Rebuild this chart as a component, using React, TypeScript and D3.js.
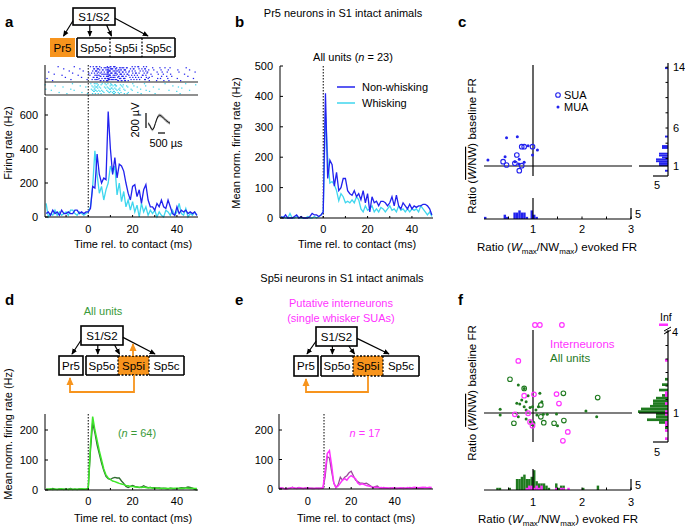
import React from 'react';
import * as d3 from 'd3';

const FONT = '"Liberation Sans", Arial, Helvetica, sans-serif';

// ---------- time bins (ms) ----------
const psthTime = d3.range(-19, 50);
const eTime = d3.range(-13, 58);

// ---------- panel a ----------
const aNonWhisking = [20,30,10,40,20,30,10,40,20,20,30,20,20,40,40,20,30,20,30,
  30,50,180,170,370,250,200,230,220,620,
  400,250,350,230,310,300,270,200,140,100,
  180,190,120,160,80,160,190,100,60,60,
  40,80,60,100,60,50,100,60,20,10,
  60,20,40,30,40,20,30,20,30,10];
const aWhisking = [80,0,20,10,40,10,30,10,20,30,10,40,40,20,10,30,20,10,20,
  30,60,180,390,250,140,180,100,160,200,
  300,260,300,130,200,90,150,60,100,40,
  90,30,70,0,80,30,60,10,40,20,
  40,0,30,10,0,40,30,10,40,10,
  30,80,20,10,50,0,20,10,30,10];
const waveTime = [0,0.1,0.2,0.3,0.4,0.5,0.6,0.7,0.8,0.9,1.0,1.1,1.2,1.3,1.4,1.5];
const waveform = [0,-15,-60,-85,-60,0,60,100,110,100,85,65,45,30,15,5];

// ---------- panel b ----------
const bNonWhisking = [5,0,10,0,0,0,5,10,0,5,0,0,0,5,15,10,10,5,10,
  20,410,130,190,175,105,150,90,100,130,
  130,90,80,75,90,70,80,60,90,50,
  80,20,70,50,55,40,55,55,50,40,
  50,70,40,75,40,30,50,40,30,45,
  30,40,35,40,40,45,45,40,30,10];
const bWhisking = [0,5,0,0,15,0,0,5,0,0,0,0,5,0,0,5,0,5,10,
  20,345,200,115,120,110,90,57,80,70,
  50,55,50,60,50,70,60,30,20,40,
  25,30,40,20,30,20,35,30,20,30,
  40,25,30,20,40,25,30,20,30,20,
  30,25,30,20,40,30,20,10,20,5];

// ---------- panel c ----------
const cSuaX = [0.99,0.77,0.82,0.67,0.39,0.46,0.63,0.77,0.72];
const cSuaY = [3.54,3.54,3.54,2.45,1.57,1.13,1.36,1.04,0.38];
const cMuaX = [0.08,0.46,0.68,0.90,1.09,0.99,0.43,0.72,0.82,0.63,0.71];
const cMuaY = [1.79,4.72,4.86,3.67,3.10,2.45,2.22,1.88,1.49,1.57,1.26];
const cEvokedBinStart = [0.0,0.4,0.45,0.6,0.65,0.7,0.75,0.8,0.85,0.95,1.0,1.05];
const cEvokedCount = [1,2,1,3,3,4,3,3,1,4,2,1];
const cBaseBinStart = [13.75,4.75,3.5,3.25,2.5,2.25,2.0,1.75,1.5,1.25,1.0,0.25];
const cBaseCount = [1,1,2,2,3,3,2,4,4,3,3,1];

// ---------- panel d ----------
const dAllBright = [3,2,4,2,3,2,3,4,2,3,2,3,2,3,2,3,4,3,3,
  5,150,245,200,165,130,100,70,50,40,
  35,30,28,25,22,20,18,15,14,12,
  12,10,10,9,8,10,8,7,8,6,
  6,7,5,6,5,6,5,6,5,6,
  6,5,6,5,7,6,5,6,5,5];
const dAllDark = [2,3,2,5,3,2,4,2,3,2,3,5,2,3,2,4,3,2,3,
  5,130,225,190,150,120,90,65,45,38,
  35,40,42,40,40,30,22,12,8,12,
  15,12,10,8,10,14,10,8,9,7,
  8,6,7,5,6,5,4,6,5,4,
  5,6,8,7,8,10,9,6,2,0];

// ---------- panel e ----------
const eMagenta = [5,3,2,0,2,3,5,3,2,4,3,2,3,2,3,2,2,3,2,3,3,
  60,120,130,80,20,5,10,20,30,35,30,40,45,40,35,20,15,18,15,12,10,8,
  5,6,5,4,5,3,4,3,2,4,3,2,3,4,2,3,5,3,4,6,5,4,5,6,5,4,6,5];
const ePurple = [2,4,2,1,2,3,6,2,3,5,3,2,3,4,2,3,2,2,3,2,2,
  40,110,105,60,20,5,15,40,30,40,45,55,60,45,30,25,20,20,18,20,15,10,
  5,8,10,4,3,5,3,2,4,3,2,3,2,3,4,2,3,5,3,4,3,2,4,3,5,4,3,2];

// ---------- panel f ----------
const fIntX = [0.70,0.82,1.02,1.48,1.53,0.90,0.94,0.99,0.63,1.71,1.61];
const fIntY = [2.93,1.64,1.69,1.70,1.35,0.99,0.67,0.53,0.95,0.30,-0.03];
const fIntInfX = [1.04,1.14,1.59];
const fSuaX = [0.53,0.82,1.62,2.32,1.16,1.16,0.61,1.22,1.43,1.63,0.99];
const fSuaY = [2.25,1.91,1.73,1.57,1.30,0.86,0.62,0.64,0.62,0.72,0.62];
const fMuaX = [0.70,0.82,1.14,0.90,0.77,0.67,0.73,0.86,0.82,0.99,1.18,0.33,0.33,0.67,0.86,1.06,1.08,1.21,1.29,1.48,2.08,2.30,0.86,0.95,1.50,0.70,1.11,0.94];
const fMuaY = [2.04,1.91,1.73,1.64,1.48,1.36,1.33,1.42,1.23,1.23,1.42,1.14,0.93,0.99,1.11,1.11,0.93,0.95,0.95,0.96,1.07,0.86,0.78,0.68,0.53,0.86,1.23,1.20];
const fEvokedAllStart = [0.25,0.30,0.50,0.65,0.70,0.75,0.80,0.85,0.90,0.95,1.00,1.05,1.10,1.15,1.20,1.25,1.30,1.45,1.50,1.55,1.60,2.00,2.30];
const fEvokedAllCount = [1,1,1,5,5,6,7,5,5,6,9,4,3,3,3,2,1,3,1,2,2,1,2];
const fEvokedIntStart = [0.85,0.90,0.95,1.00,1.05,1.10,1.15,1.45,1.55,1.60,1.70];
const fEvokedIntCount = [1,2,2,1,2,1,2,1,1,1,1];
const fBaseAllStart = [2.2,2.0,1.8,1.6,1.5,1.4,1.3,1.2,1.1,1.0,0.9,0.8,0.7,0.6,0.4];
const fBaseAllCount = [1,2,3,2,4,5,5,6,9,10,4,4,7,3,1];
const fBaseIntStart = [2.9,1.7,1.6,1.3,1.0,0.9,0.6,0.5,0.3,0.0];
const fBaseIntCount = [1,1,1,1,1,1,1,1,1,1];
const fInfIntCount = 3;

// ---------- colours ----------
const BLUE = '#2222ee';
const CYAN = '#3fd6ee';
const ORANGE = '#f7941d';
const LIME = '#3ee62a';
const DKGREEN = '#2f6a2f';
const MAGENTA = '#ff33ff';
const PURPLE = '#9a4a9a';
const FGREEN = '#1f7a1f';
const TXTGREEN = '#3a9a3a';

const frac = (v: number) => v - Math.floor(v);

function linePath(x: any, y: any, t: number[], v: number[]) {
  return d3.line()(t.map((tt, i) => [x(tt), y(v[i])]) as any) || '';
}

function YTicks({ x, scale, values, labels, len = 3, labelX }: any) {
  return (
    <g>
      {values.map((v: number) => (
        <line key={'t' + v} x1={x} x2={x + len} y1={scale(v)} y2={scale(v)} stroke="#000" strokeWidth={1} />
      ))}
      {labels.map((v: number) => (
        <text key={'l' + v} x={labelX} y={scale(v) + 4} textAnchor="end" fontSize={11}>{v}</text>
      ))}
    </g>
  );
}

function XTicks({ y, scale, values, labels, len = 3, labelY }: any) {
  return (
    <g>
      {values.map((v: number) => (
        <line key={'t' + v} x1={scale(v)} x2={scale(v)} y1={y} y2={y - len} stroke="#000" strokeWidth={1} />
      ))}
      {labels.map((v: number) => (
        <text key={'l' + v} x={scale(v)} y={labelY} textAnchor="middle" fontSize={11}>{v}</text>
      ))}
    </g>
  );
}

function Diagram({ s1, pr5, sp5, div1, div2, pr5Orange, sp5iOrange }: any) {
  const [sx, sy, sw, sh] = s1;
  const [px, py, pw, ph] = pr5;
  const [qx, qy, qw, qh] = sp5;
  const sb = sy + sh;
  const top = qy - 1;
  return (
    <g>
      {sp5iOrange && <rect x={div1} y={qy} width={div2 - div1} height={qh} fill={ORANGE} />}
      <rect x={sx} y={sy} width={sw} height={sh} fill="#fff" stroke="#000" strokeWidth={1.6} />
      <text x={sx + sw / 2} y={sy + sh / 2 + 4} textAnchor="middle" fontSize={11.5}>S1/S2</text>
      {pr5Orange
        ? <rect x={px} y={py} width={pw} height={ph} fill={ORANGE} />
        : <rect x={px} y={py} width={pw} height={ph} fill="#fff" stroke="#000" strokeWidth={1.6} />}
      <text x={px + pw / 2} y={py + ph / 2 + 4} textAnchor="middle" fontSize={11.5}>Pr5</text>
      <line x1={qx} x2={div1} y1={qy} y2={qy} stroke="#000" strokeWidth={1.6} />
      <line x1={qx} x2={div1} y1={qy + qh} y2={qy + qh} stroke="#000" strokeWidth={1.6} />
      <line x1={div2} x2={qx + qw} y1={qy} y2={qy} stroke="#000" strokeWidth={1.6} />
      <line x1={div2} x2={qx + qw} y1={qy + qh} y2={qy + qh} stroke="#000" strokeWidth={1.6} />
      <line x1={qx} x2={qx} y1={qy} y2={qy + qh} stroke="#000" strokeWidth={1.6} />
      <line x1={qx + qw} x2={qx + qw} y1={qy} y2={qy + qh} stroke="#000" strokeWidth={1.6} />
      {sp5iOrange ? (
        <g>
          <line x1={div1} x2={div2} y1={qy} y2={qy} stroke="#000" strokeWidth={1.6} strokeDasharray="2,1.5" />
          <line x1={div1} x2={div2} y1={qy + qh} y2={qy + qh} stroke="#000" strokeWidth={1.6} strokeDasharray="2,1.5" />
        </g>
      ) : (
        <g>
          <line x1={div1} x2={div2} y1={qy} y2={qy} stroke="#000" strokeWidth={1.6} />
          <line x1={div1} x2={div2} y1={qy + qh} y2={qy + qh} stroke="#000" strokeWidth={1.6} />
        </g>
      )}
      <line x1={div1} x2={div1} y1={qy} y2={qy + qh} stroke="#000" strokeWidth={1.2} strokeDasharray="2,1.5" />
      <line x1={div2} x2={div2} y1={qy} y2={qy + qh} stroke="#000" strokeWidth={1.2} strokeDasharray="2,1.5" />
      <text x={(qx + div1) / 2} y={qy + qh / 2 + 4} textAnchor="middle" fontSize={11.5}>Sp5o</text>
      <text x={(div1 + div2) / 2} y={qy + qh / 2 + 4} textAnchor="middle" fontSize={11.5}>Sp5i</text>
      <text x={(div2 + qx + qw) / 2} y={qy + qh / 2 + 4} textAnchor="middle" fontSize={11.5}>Sp5c</text>
      <line x1={sx} y1={sy + sh * 0.75} x2={px + pw / 2 + 1} y2={top - 1} stroke="#000" strokeWidth={1.2} markerEnd="url(#arrB)" />
      <line x1={sx + sw * 0.4} y1={sb} x2={sx + sw * 0.4} y2={top - 1} stroke="#000" strokeWidth={1.2} markerEnd="url(#arrB)" />
      <line x1={sx + sw * 0.8} y1={sb} x2={div1 + 1.5} y2={top - 1} stroke="#000" strokeWidth={1.2} markerEnd="url(#arrB)" />
      <line x1={sx + sw} y1={sy + sh * 0.6} x2={div2 + 6} y2={top - 1} stroke="#000" strokeWidth={1.2} markerEnd="url(#arrB)" />
    </g>
  );
}

// Raster dots laid out from the PSTH rate of each bin (count per bin = rate-proportional),
// placed with a deterministic low-discrepancy (R2) sequence.
function Raster({ x, rates, yTop, yBot, nTrials, color, seed }: any) {
  const rowH = (yBot - yTop) / nTrials;
  const dots: any[] = [];
  let k = 0;
  psthTime.forEach((t, i) => {
    const n = Math.round((rates[i] / 1000) * nTrials * 2.5);
    for (let j = 0; j < n; j++) {
      k += 1;
      const tt = t - 0.5 + frac(seed + k * 0.7548776662);
      const row = Math.floor(frac(seed * 1.7 + k * 0.5698402910) * nTrials);
      dots.push(<rect key={i + '_' + j} x={x(tt) - 0.6} y={yTop + row * rowH + 0.1} width={1.3} height={1.2} fill={color} />);
    }
  });
  return <g>{dots}</g>;
}

function HBars({ starts, counts, bw, x, base, k, color }: any) {
  return (
    <g>
      {starts.map((s: number, i: number) => (
        <rect key={i} x={x(s)} width={Math.max(0.5, x(s + bw) - x(s))} y={base - counts[i] * k} height={counts[i] * k} fill={color} />
      ))}
    </g>
  );
}

function VBars({ starts, counts, bw, y, axisX, k, color }: any) {
  return (
    <g>
      {starts.map((s: number, i: number) => (
        <rect key={i} x={axisX - counts[i] * k} width={counts[i] * k} y={y(s + bw)} height={Math.max(0.5, y(s) - y(s + bw))} fill={color} />
      ))}
    </g>
  );
}

function RatioYLabel({ cx, cy }: any) {
  return (
    <text transform={`translate(${cx},${cy}) rotate(-90)`} textAnchor="middle" fontSize={11.5}>
      <tspan>Ratio (</tspan>
      <tspan style={{ textDecoration: 'overline' }}><tspan fontStyle="italic">W</tspan>/NW</tspan>
      <tspan>) baseline FR</tspan>
    </text>
  );
}

function RatioXLabel({ cx, y }: any) {
  return (
    <text x={cx} y={y} textAnchor="middle" fontSize={11.5}>
      <tspan>Ratio (</tspan>
      <tspan fontStyle="italic">W</tspan>
      <tspan fontSize={8} dy={2.5}>max</tspan>
      <tspan dy={-2.5}>/NW</tspan>
      <tspan fontSize={8} dy={2.5}>max</tspan>
      <tspan dy={-2.5}>) evoked FR</tspan>
    </text>
  );
}

export default function App() {
  const xA = d3.scaleLinear().domain([-19.5, 49.5]).range([45, 198]);
  const yA = d3.scaleLinear().domain([0, 600]).range([217, 115]);
  const xW = d3.scaleLinear().domain([0, 1.5]).range([148, 170]);
  const yW = d3.scaleLinear().domain([0, 200]).range([123.5, 108.5]);
  const waveArea = d3.area<number>().x((_, i) => xW(waveTime[i])).y0((d) => yW(d - 22)).y1((d) => yW(d + 22));
  const xB = d3.scaleLinear().domain([-19.5, 49.5]).range([280, 433]);
  const yB = d3.scaleLinear().domain([0, 500]).range([218, 66]);
  const xC = d3.scaleLinear().domain([0, 3]).range([484, 631]);
  const yC = d3.scaleLinear().domain([1, 14]).range([166, 67.2]);
  const xD = xA;
  const yD = d3.scaleLinear().domain([0, 200]).range([490, 430]);
  const xE = d3.scaleLinear().domain([0, 40]).range([307.7, 394.7]);
  const yE = d3.scaleLinear().domain([0, 200]).range([489, 430]);
  const xF = xC;
  const yF = d3.scaleLinear().domain([1, 4]).range([413, 332]);

  const dotted = { stroke: '#000', strokeWidth: 1, strokeDasharray: '1.5,1.5' };

  return (
    <svg width={685} height={529} style={{ position: 'absolute', left: 0, top: 0, background: '#fff' }} fontFamily={FONT}>
      <defs>
        <marker id="arrB" viewBox="0 0 8 8" refX={7} refY={4} markerWidth={6} markerHeight={6} markerUnits="userSpaceOnUse" orient="auto">
          <path d="M0,0.5 L8,4 L0,7.5 z" fill="#000" />
        </marker>
        <marker id="arrO" viewBox="0 0 8 8" refX={7} refY={4} markerWidth={8} markerHeight={8} markerUnits="userSpaceOnUse" orient="auto">
          <path d="M0,0.5 L8,4 L0,7.5 z" fill={ORANGE} />
        </marker>
      </defs>

      {/* ================= panel a ================= */}
      <text x={5} y={27} fontSize={15} fontWeight="bold">a</text>
      <Diagram s1={[73, 8, 42, 17]} pr5={[50, 38, 25, 19]} sp5={[77, 38, 98, 19]} div1={110} div2={142} pr5Orange />
      <Raster x={xA} rates={aNonWhisking} yTop={66} yBot={81} nTrials={14} color={BLUE} seed={0.13} />
      <Raster x={xA} rates={aWhisking} yTop={83} yBot={94} nTrials={10} color={CYAN} seed={0.57} />
      <line x1={45} x2={198} y1={82} y2={82} stroke="#222" strokeWidth={1.2} />
      <line x1={45} x2={198} y1={95} y2={95} stroke="#222" strokeWidth={1.2} />
      <line x1={45} x2={45} y1={65} y2={95} stroke="#000" strokeWidth={1} />
      <line x1={xA(0)} x2={xA(0)} y1={65} y2={217} {...dotted} />
      <path d={linePath(xA, yA, psthTime, aWhisking)} fill="none" stroke={CYAN} strokeWidth={1.3} />
      <path d={linePath(xA, yA, psthTime, aNonWhisking)} fill="none" stroke={BLUE} strokeWidth={1.3} />
      <line x1={45} x2={45} y1={97} y2={217} stroke="#000" strokeWidth={1} />
      <line x1={45} x2={198} y1={217} y2={217} stroke="#000" strokeWidth={1} />
      <YTicks x={45} scale={yA} values={[0, 200, 400, 600]} labels={[0, 200, 400, 600]} labelX={38} />
      <XTicks y={217} scale={xA} values={[-10, 0, 10, 20, 30, 40]} labels={[0, 20, 40]} labelY={233} len={2} />
      <text transform="translate(12,143) rotate(-90)" textAnchor="middle" fontSize={11}>Firing rate (Hz)</text>
      <text x={133} y={248} textAnchor="middle" fontSize={11}>Time rel. to contact (ms)</text>
      <path d={waveArea(waveform) || ''} fill="#999" opacity={0.8} />
      <path d={linePath(xW, yW, waveTime, waveform)} fill="none" stroke="#111" strokeWidth={1} />
      <line x1={146} x2={146} y1={113} y2={128} stroke="#000" strokeWidth={1.2} />
      <text transform="translate(139,120) rotate(-90)" textAnchor="middle" fontSize={11}>200 µV</text>
      <line x1={158} x2={165} y1={133} y2={133} stroke="#000" strokeWidth={1.2} />
      <text x={166} y={147} textAnchor="middle" fontSize={11}>500 µs</text>

      {/* ================= panel b ================= */}
      <text x={343} y={17} textAnchor="middle" fontSize={11}>Pr5 neurons in S1 intact animals</text>
      <text x={235} y={27} fontSize={15} fontWeight="bold">b</text>
      <text x={353} y={61} textAnchor="middle" fontSize={11}>All units (<tspan fontStyle="italic">n</tspan> = 23)</text>
      <line x1={xB(0)} x2={xB(0)} y1={66} y2={218} {...dotted} />
      <path d={linePath(xB, yB, psthTime, bWhisking)} fill="none" stroke={CYAN} strokeWidth={1.3} />
      <path d={linePath(xB, yB, psthTime, bNonWhisking)} fill="none" stroke={BLUE} strokeWidth={1.3} />
      <line x1={280} x2={280} y1={66} y2={218} stroke="#000" strokeWidth={1} />
      <line x1={280} x2={433} y1={218} y2={218} stroke="#000" strokeWidth={1} />
      <YTicks x={280} scale={yB} values={[0, 100, 200, 300, 400, 500]} labels={[0, 100, 200, 300, 400, 500]} labelX={273} />
      <XTicks y={218} scale={xB} values={[-10, 0, 10, 20, 30, 40]} labels={[0, 20, 40]} labelY={233} len={2} />
      <line x1={337} x2={355} y1={87} y2={87} stroke={BLUE} strokeWidth={1.5} />
      <text x={362} y={91} fontSize={11}>Non-whisking</text>
      <line x1={337} x2={355} y1={103} y2={103} stroke={CYAN} strokeWidth={1.5} />
      <text x={362} y={107} fontSize={11}>Whisking</text>
      <text transform="translate(240,143) rotate(-90)" textAnchor="middle" fontSize={11}>Mean norm. firing rate (Hz)</text>
      <text x={357} y={248} textAnchor="middle" fontSize={11}>Time rel. to contact (ms)</text>

      {/* ================= panel c ================= */}
      <text x={458} y={27} fontSize={15} fontWeight="bold">c</text>
      <line x1={484} x2={632} y1={yC(1)} y2={yC(1)} stroke="#000" strokeWidth={1.2} />
      <line x1={xC(1)} x2={xC(1)} y1={65} y2={176} stroke="#000" strokeWidth={1.2} />
      {cMuaX.map((v, i) => <circle key={'cm' + i} cx={xC(v)} cy={yC(cMuaY[i])} r={1.5} fill={BLUE} />)}
      {cSuaX.map((v, i) => <circle key={'cs' + i} cx={xC(v)} cy={yC(cSuaY[i])} r={2.3} fill="none" stroke={BLUE} strokeWidth={1.1} />)}
      <circle cx={558} cy={95} r={2.3} fill="none" stroke={BLUE} strokeWidth={1.1} />
      <text x={564} y={99} fontSize={11}>SUA</text>
      <circle cx={558} cy={107} r={1.5} fill={BLUE} />
      <text x={564} y={111} fontSize={11}>MUA</text>
      <HBars starts={cEvokedBinStart} counts={cEvokedCount} bw={0.05} x={xC} base={219} k={2.15} color={BLUE} />
      <line x1={484} x2={631} y1={219} y2={219} stroke="#000" strokeWidth={1.2} />
      <line x1={xC(1)} x2={xC(1)} y1={198} y2={219} stroke="#000" strokeWidth={1.2} />
      <XTicks y={219} scale={xC} values={[0.5, 1.5, 2, 2.5, 3]} labels={[1, 2, 3]} labelY={233} len={2.5} />
      <line x1={631} x2={631} y1={208} y2={219} stroke="#000" strokeWidth={1.2} />
      <text x={635} y={218} fontSize={11}>5</text>
      <VBars starts={cBaseBinStart} counts={cBaseCount} bw={0.25} y={yC} axisX={668} k={3} color={BLUE} />
      <line x1={639} x2={668} y1={yC(1)} y2={yC(1)} stroke="#000" strokeWidth={1.2} />
      <line x1={668} x2={668} y1={63} y2={176} stroke="#000" strokeWidth={1.2} />
      {[2, 4, 6, 8, 10, 12, 14].map((v) => <line key={'cr' + v} x1={668} x2={665.5} y1={yC(v)} y2={yC(v)} stroke="#000" strokeWidth={1} />)}
      <text x={673} y={yC(14) + 4} fontSize={11}>14</text>
      <text x={673} y={yC(6) + 4} fontSize={11}>6</text>
      <text x={673} y={yC(1) + 4} fontSize={11}>1</text>
      <line x1={653} x2={668} y1={176} y2={176} stroke="#000" strokeWidth={1.2} />
      <text x={657} y={189} textAnchor="middle" fontSize={11}>5</text>
      <RatioYLabel cx={476} cy={146} />
      <RatioXLabel cx={557} y={251} />

      {/* ================= panel d ================= */}
      <text x={5} y={305} fontSize={15} fontWeight="bold">d</text>
      <text x={103} y={315} textAnchor="middle" fontSize={11} fill={TXTGREEN}>All units</text>
      <Diagram s1={[81, 326, 42, 19]} pr5={[59, 356, 24, 19]} sp5={[86, 356, 98, 19]} div1={118} div2={149} sp5iOrange />
      <path d="M134,375 L134,392 L70,392 L70,378" fill="none" stroke={ORANGE} strokeWidth={1.8} markerEnd="url(#arrO)" />
      <line x1={133} x2={133} y1={356} y2={344} stroke={ORANGE} strokeWidth={1.8} markerEnd="url(#arrO)" />
      <line x1={xD(0)} x2={xD(0)} y1={414} y2={490} {...dotted} />
      <path d={linePath(xD, yD, psthTime, dAllDark)} fill="none" stroke={DKGREEN} strokeWidth={1.3} />
      <path d={linePath(xD, yD, psthTime, dAllBright)} fill="none" stroke={LIME} strokeWidth={1.5} />
      <line x1={45} x2={45} y1={414} y2={490} stroke="#000" strokeWidth={1} />
      <line x1={45} x2={198} y1={490} y2={490} stroke="#000" strokeWidth={1} />
      <YTicks x={45} scale={yD} values={[0, 100, 200]} labels={[0, 100, 200]} labelX={38} />
      <XTicks y={490} scale={xD} values={[-10, 0, 10, 20, 30, 40]} labels={[0, 20, 40]} labelY={505} len={2} />
      <text x={137} y={437} textAnchor="middle" fontSize={11} fill={TXTGREEN}>(<tspan fontStyle="italic">n</tspan> = 64)</text>
      <text transform="translate(12,434) rotate(-90)" textAnchor="middle" fontSize={11}>Mean norm. firing rate (Hz)</text>
      <text x={133} y={522} textAnchor="middle" fontSize={11}>Time rel. to contact (ms)</text>

      {/* ================= panel e ================= */}
      <text x={342} y={282} textAnchor="middle" fontSize={11}>Sp5i neurons in S1 intact animals</text>
      <text x={235} y={305} fontSize={15} fontWeight="bold">e</text>
      <text x={341} y={307} textAnchor="middle" fontSize={11} fill={MAGENTA}>Putative interneurons</text>
      <text x={341} y={322} textAnchor="middle" fontSize={11} fill={MAGENTA}>(single whisker SUAs)</text>
      <Diagram s1={[316, 327, 41, 19]} pr5={[294, 356, 24, 20]} sp5={[321, 356, 98, 20]} div1={353} div2={383} sp5iOrange />
      <path d="M368,376 L368,392 L306,392 L306,379" fill="none" stroke={ORANGE} strokeWidth={1.8} markerEnd="url(#arrO)" />
      <line x1={324} x2={324} y1={414} y2={489} {...dotted} />
      <path d={linePath(xE, yE, eTime, ePurple)} fill="none" stroke={PURPLE} strokeWidth={1.3} />
      <path d={linePath(xE, yE, eTime, eMagenta)} fill="none" stroke={MAGENTA} strokeWidth={1.5} />
      <line x1={279} x2={279} y1={414} y2={489} stroke="#000" strokeWidth={1} />
      <line x1={279} x2={433} y1={489} y2={489} stroke="#000" strokeWidth={1} />
      <YTicks x={279} scale={yE} values={[0, 100, 200]} labels={[0, 100, 200]} labelX={273} />
      <XTicks y={489} scale={xE} values={[-10, 0, 10, 20, 30, 40, 50]} labels={[0, 20, 40]} labelY={505} len={2} />
      <text x={365} y={437} textAnchor="middle" fontSize={11} fill={MAGENTA}><tspan fontStyle="italic">n</tspan> = 17</text>
      <text x={356} y={522} textAnchor="middle" fontSize={11}>Time rel. to contact (ms)</text>

      {/* ================= panel f ================= */}
      <text x={458} y={305} fontSize={15} fontWeight="bold">f</text>
      <line x1={484} x2={632} y1={yF(1)} y2={yF(1)} stroke="#000" strokeWidth={1.2} />
      <line x1={xF(1)} x2={xF(1)} y1={330} y2={442} stroke="#000" strokeWidth={1.2} />
      {fMuaX.map((v, i) => <circle key={'fm' + i} cx={xF(v)} cy={yF(fMuaY[i])} r={1.5} fill={FGREEN} />)}
      {fSuaX.map((v, i) => <circle key={'fs' + i} cx={xF(v)} cy={yF(fSuaY[i])} r={2.3} fill="none" stroke={FGREEN} strokeWidth={1.1} />)}
      {fIntX.map((v, i) => <circle key={'fi' + i} cx={xF(v)} cy={yF(fIntY[i])} r={2.3} fill="none" stroke={MAGENTA} strokeWidth={1.2} />)}
      {fIntInfX.map((v, i) => <circle key={'fn' + i} cx={xF(v)} cy={325} r={2.3} fill="none" stroke={MAGENTA} strokeWidth={1.2} />)}
      <text x={550} y={348} fontSize={11.5} fill={MAGENTA}>Interneurons</text>
      <text x={550} y={362} fontSize={11.5} fill={FGREEN}>All units</text>
      <HBars starts={fEvokedAllStart} counts={fEvokedAllCount} bw={0.05} x={xF} base={490} k={2.2} color={FGREEN} />
      <HBars starts={fEvokedIntStart} counts={fEvokedIntCount} bw={0.05} x={xF} base={490} k={2.2} color={MAGENTA} />
      <line x1={484} x2={631} y1={490} y2={490} stroke="#000" strokeWidth={1.2} />
      <line x1={xF(1)} x2={xF(1)} y1={469} y2={490} stroke="#000" strokeWidth={1.2} />
      <XTicks y={490} scale={xF} values={[0.5, 1.5, 2, 2.5, 3]} labels={[1, 2, 3]} labelY={506} len={2.5} />
      <line x1={631} x2={631} y1={479} y2={490} stroke="#000" strokeWidth={1.2} />
      <text x={635} y={489} fontSize={11}>5</text>
      <VBars starts={fBaseAllStart} counts={fBaseAllCount} bw={0.1} y={yF} axisX={668} k={3} color={FGREEN} />
      <VBars starts={fBaseIntStart} counts={fBaseIntCount} bw={0.1} y={yF} axisX={668} k={3} color={MAGENTA} />
      <rect x={668 - fInfIntCount * 3} y={323.5} width={fInfIntCount * 3} height={2.5} fill={MAGENTA} />
      <line x1={639} x2={668} y1={yF(1)} y2={yF(1)} stroke="#000" strokeWidth={1.2} />
      <line x1={668} x2={668} y1={330} y2={442} stroke="#000" strokeWidth={1.2} />
      {[0.5, 1.5, 2, 2.5, 3, 3.5, 4].map((v) => <line key={'fr' + v} x1={668} x2={665.5} y1={yF(v)} y2={yF(v)} stroke="#000" strokeWidth={1} />)}
      <line x1={664} x2={671} y1={331} y2={327} stroke="#000" strokeWidth={1} />
      <line x1={664} x2={671} y1={334} y2={330} stroke="#000" strokeWidth={1} />
      <text x={660} y={321} fontSize={10.5}>Inf</text>
      <text x={672} y={yF(4) + 4} fontSize={11}>4</text>
      <text x={673} y={yF(1) + 4} fontSize={11}>1</text>
      <line x1={653} x2={668} y1={442} y2={442} stroke="#000" strokeWidth={1.2} />
      <text x={657} y={456} textAnchor="middle" fontSize={11}>5</text>
      <RatioYLabel cx={476} cy={393} />
      <RatioXLabel cx={558} y={523} />
    </svg>
  );
}
